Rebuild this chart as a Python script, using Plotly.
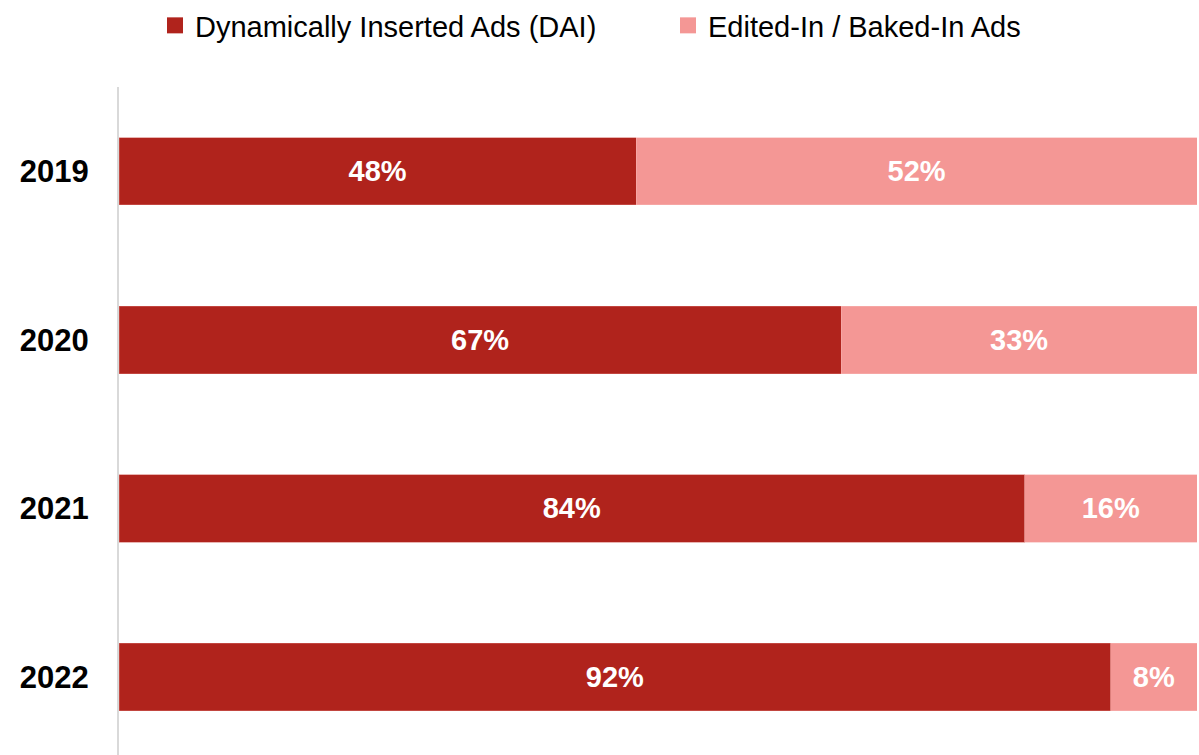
import plotly.graph_objects as go

years = ["2019", "2020", "2021", "2022"]
dai = [48, 67, 84, 92]
baked = [52, 33, 16, 8]
dai_name = "Dynamically Inserted Ads (DAI)"
baked_name = "Edited-In / Baked-In Ads"
dark = "#B0231C"
light = "#F49795"
font_family = "Liberation Sans, Arial, sans-serif"

fig = go.Figure()
fig.add_trace(go.Bar(
    y=years, x=dai, orientation="h", name=dai_name,
    marker=dict(color=dark, line=dict(color="#d46a64", width=0.5)),
    text=[f"{v}%" for v in dai], textposition="inside", insidetextanchor="middle",
    textfont=dict(color="white", size=29, family=font_family, weight="bold"),
    showlegend=False, width=0.4,
))
fig.add_trace(go.Bar(
    y=years, x=baked, orientation="h", name=baked_name,
    marker=dict(color=light, line=dict(color="#f8b5b3", width=0.5)),
    text=[f"{v}%" for v in baked], textposition="inside", insidetextanchor="middle",
    textfont=dict(color="white", size=29, family=font_family, weight="bold"),
    showlegend=False, width=0.4,
))
# legend entries with square swatches
for nm, col in [(dai_name, dark), (baked_name, light)]:
    fig.add_trace(go.Scatter(
        x=[None], y=[None], mode="markers", name=nm,
        marker=dict(symbol="square", size=16, color=col),
        showlegend=True,
    ))

fig.update_layout(
    width=1199, height=755,
    barmode="stack",
    plot_bgcolor="white", paper_bgcolor="white",
    margin=dict(l=119, r=2, t=87, b=0),
    font=dict(family=font_family, color="black"),
    legend=dict(
        orientation="h", xref="container", yref="container",
        x=155 / 1199, xanchor="left", y=1.0, yanchor="top",
        font=dict(size=29, color="black", family=font_family),
        entrywidth=468, entrywidthmode="pixels",
        traceorder="normal",
    ),
    xaxis=dict(range=[0, 100], visible=False, fixedrange=True),
    yaxis=dict(
        categoryorder="array", categoryarray=years,
        range=[3.463, -0.5],
        showline=True, linecolor="#d9d9d9", linewidth=2,
        showgrid=False, ticks="", ticklabelstandoff=22,
        tickfont=dict(size=31, family=font_family, color="black", weight="bold"),
    ),
)
fig.write_html("out.html")
